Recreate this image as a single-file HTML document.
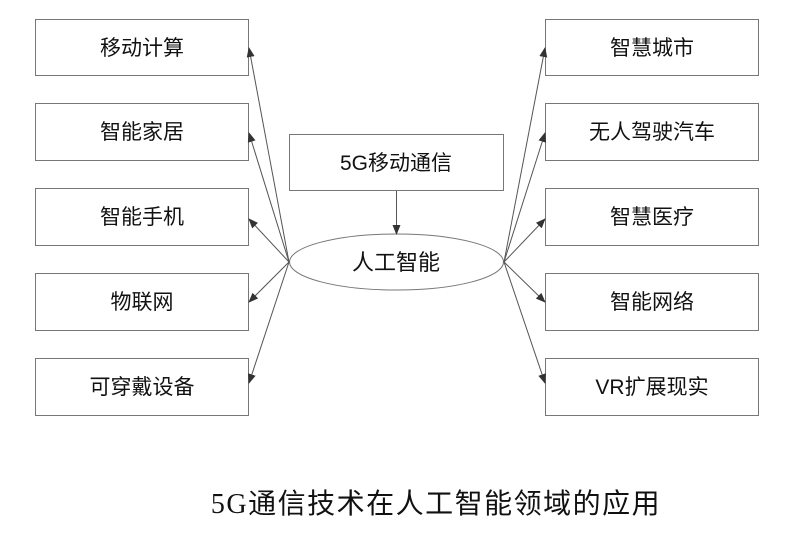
<!DOCTYPE html>
<html><head><meta charset="utf-8"><style>
body{margin:0;background:#fff;}
svg text{font-family:"Liberation Sans","Noto Sans CJK SC",sans-serif;fill:#111;}
</style></head><body>
<svg width="788" height="540" viewBox="0 0 788 540" xmlns="http://www.w3.org/2000/svg">
<defs><marker id="a" markerWidth="10" markerHeight="8" refX="9" refY="4" orient="auto" markerUnits="userSpaceOnUse"><path d="M0,0 L10,4 L0,8 z" fill="#333"/></marker></defs>
<g fill="#fff" stroke="#777" stroke-width="1">
<rect x="35.5" y="19.5" width="213" height="56"/>
<rect x="35.5" y="103.5" width="213" height="57"/>
<rect x="35.5" y="188.5" width="213" height="57"/>
<rect x="35.5" y="273.5" width="213" height="57"/>
<rect x="35.5" y="358.5" width="213" height="57"/>
<rect x="545.5" y="19.5" width="213" height="56"/>
<rect x="545.5" y="103.5" width="213" height="57"/>
<rect x="545.5" y="188.5" width="213" height="57"/>
<rect x="545.5" y="273.5" width="213" height="57"/>
<rect x="545.5" y="358.5" width="213" height="57"/>
<rect x="289.5" y="134.5" width="214" height="56"/>
<ellipse cx="396.5" cy="262" rx="107" ry="28"/>
</g>
<g stroke="#555" stroke-width="1" marker-end="url(#a)">
<line x1="396.5" y1="191" x2="396.5" y2="234"/>
<line x1="289" y1="262" x2="249" y2="48"/>
<line x1="289" y1="262" x2="249" y2="133"/>
<line x1="289" y1="262" x2="249" y2="219"/>
<line x1="289" y1="262" x2="249" y2="302"/>
<line x1="289" y1="262" x2="249" y2="383"/>
<line x1="504" y1="262" x2="545" y2="48"/>
<line x1="504" y1="262" x2="545" y2="133"/>
<line x1="504" y1="262" x2="545" y2="219"/>
<line x1="504" y1="262" x2="545" y2="302"/>
<line x1="504" y1="262" x2="545" y2="383"/>
</g>
<g font-size="21" text-anchor="middle">
<text x="142" y="55">移动计算</text>
<text x="142" y="139">智能家居</text>
<text x="142" y="224">智能手机</text>
<text x="142" y="309">物联网</text>
<text x="142" y="394">可穿戴设备</text>
<text x="652" y="55">智慧城市</text>
<text x="652" y="139">无人驾驶汽车</text>
<text x="652" y="224">智慧医疗</text>
<text x="652" y="309">智能网络</text>
<text x="652" y="394">VR扩展现实</text>
<text x="396" y="170">5G移动通信</text>
<text x="396" y="270" font-size="22">人工智能</text>
</g>
<text x="436" y="513" font-size="28" text-anchor="middle" letter-spacing="1.5"><tspan style="font-family:'Liberation Serif',serif">5G</tspan>通信技术在人工智能领域的应用</text>
</svg>
</body></html>
